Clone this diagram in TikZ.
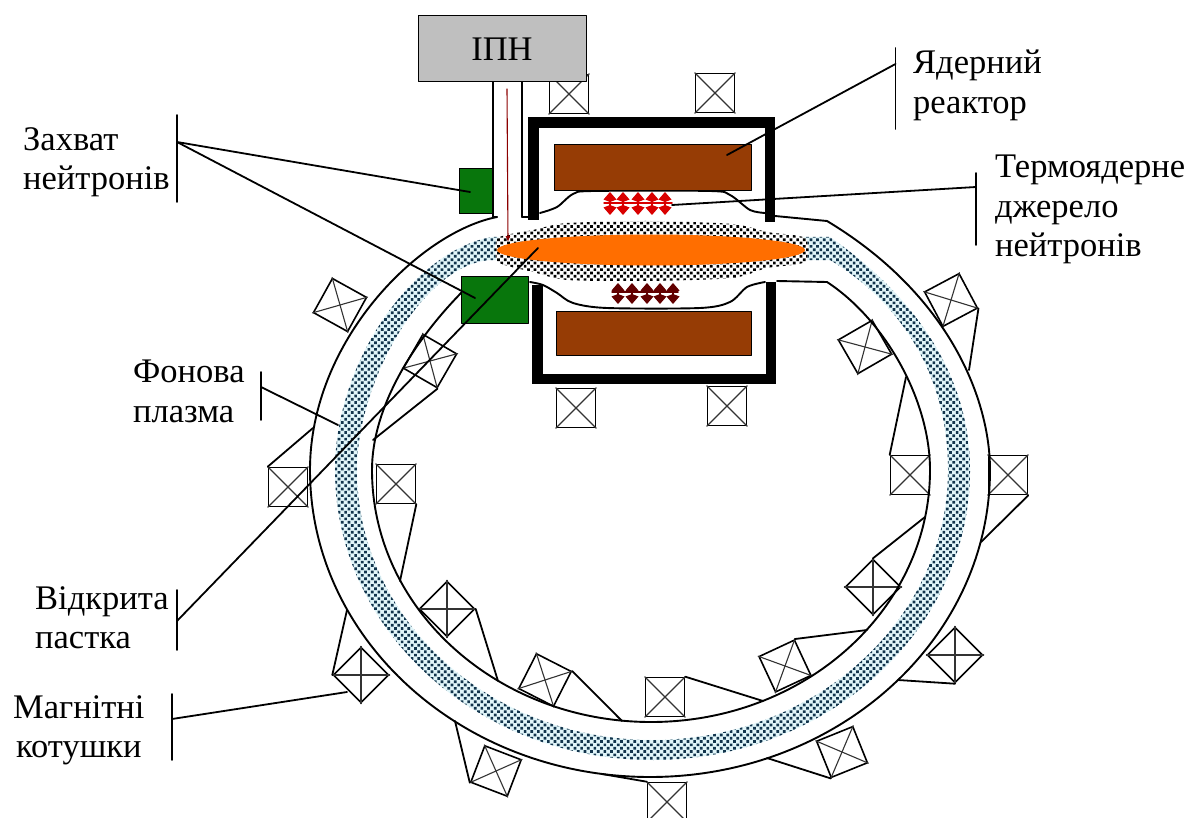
\documentclass[tikz,border=0pt]{standalone}
\usepackage{fontspec}
\setmainfont{Liberation Serif}
\usepackage{xcolor}
\usetikzlibrary{arrows.meta,patterns.meta,shapes.geometric}
\definecolor{reactorbrown}{RGB}{150,60,5}
\definecolor{trapgreen}{RGB}{8,118,12}
\definecolor{plasmaorange}{RGB}{255,110,0}
\definecolor{bandblue}{RGB}{18,52,76}
\definecolor{bandpale}{RGB}{226,246,250}

\begin{document}
\begin{tikzpicture}[
  x=1pt, y=-1pt, line cap=round, line join=round,
  font=\fontsize{34.5}{39.5}\selectfont,
  label/.style={inner sep=0pt, anchor=north west, align=left},
  coil/.style={draw, line width=1.6pt, fill=white, inner sep=0pt, minimum size=39pt,
    append after command={
      (\tikzlastnode.north west) edge[crossbar] (\tikzlastnode.south east)
      (\tikzlastnode.north east) edge[crossbar] (\tikzlastnode.south west)}},
  crossbar/.style={draw=black!80, line width=1.1pt},
  tie/.style={line width=1.8pt},
  tube/.style={line width=1.9pt},
  leader/.style={line width=1.8pt},
  frame/.style={line width=10.5pt, line cap=butt, line join=miter},
  block/.style={draw, line width=1pt, inner sep=0pt},
  fusion/.style={{Kite[length=10pt,width=13pt]}-{Kite[length=10pt,width=13pt]}, line width=1.5pt},
]
\useasboundingbox (0,0) rectangle (1198,818);
% coils with their ties
\foreach \name/\px/\py/\ang in {
    cA/569/94/0, cB/715/93/0, cC/576/408/0, cD/727/406/0,
    cE/340/305/-29, cF/430/361/-30, cG/288/487/0, cH/396/484/0,
    cI/447/609/45, cJ/361/675/45, cK/545/680/-27, cL/496/771/-21,
    cM/665/697/0, cN/667/802/0, cO/785/666/25, cP/842/752/22,
    cQ/873/587/45, cR/955/655/45, cS/910/475/0, cT/1008/475/0,
    cU/951/300/28, cV/865/347/30}
  \node[coil, rotate=\ang] (\name) at (\px,\py) {};
\foreach \name/\corner/\px/\py in {
    cG/north west/313/428, cF/south east/373/440, cH/south east/400/581,
    cI/south east/498/681, cJ/north west/347/610, cK/north east/622/721,
    cL/south west/455/721, cM/north east/763/701, cN/north west/602/774,
    cO/north east/867/630, cP/south west/767/758, cQ/north east/925/517,
    cR/south west/898/680, cS/north west/906/377, cT/south east/981/542,
    cU/south east/969/370}
{
  \coordinate (\name-tie) at (\px,\py);
  \draw[tie] (\name.\corner) -- (\name-tie);
}
% tube walls
\draw[tube] (497,217) .. controls (420,232) and (310,340) .. (310,470)
  arc[start angle=180, end angle=0, x radius=340, y radius=307]
  .. controls (990,400) and (950,295) .. (827,221) -- (775,216);
\draw[tube] (462,292) .. controls (410,345) and (372,410) .. (372,470)
  arc[start angle=180, end angle=0, x radius=279, y radius=252]
  .. controls (930,400) and (885,320) .. (827,282) -- (777,281);
\draw[tube] plot[smooth, tension=0.5] coordinates {(540,213) (557,207) (573,194) (593,191) (710,191) (730,195) (750,210) (765,213)};
\draw[tube] plot[smooth, tension=0.5] coordinates {(530,282) (543,285) (557,293) (573,303) (607,308) (700,308) (730,302) (747,287) (765,282)};
\draw[tube] (522,217) -- (528,217);
% background plasma
\path[fill=bandpale, postaction={pattern={Dots[distance=4.7pt, radius=1.9pt, angle=45]}, pattern color=bandblue}]
  (510,237) -- (492,237) .. controls (415,250) and (335,360) .. (335,470)
  arc[start angle=180, end angle=0, x radius=317.5, y radius=290]
  .. controls (970,380) and (920,300) .. (830,237) -- (795,237) -- (795,260) -- (830,260)
  .. controls (905,305) and (948,380) .. (948,470)
  arc[start angle=0, end angle=180, x radius=295.5, y radius=270]
  .. controls (357,380) and (425,262) .. (492,260) -- (510,260) -- cycle;
% open trap
\path[fill=white, postaction={pattern={Dots[distance=4.7pt, radius=1.9pt, angle=45]}, pattern color=black}]
  plot[smooth cycle, tension=0.4] coordinates {(498,238) (533,230) (567,223) (650,221) (733,224) (767,232) (805,238)
  (805,262) (767,268) (733,278) (650,281) (567,280) (533,272) (498,262)};
\node[ellipse, fill=plasmaorange, inner sep=0pt, minimum width=308pt, minimum height=31pt] (plasma) at (651,250) {};
% reactor
\draw[frame] (533.5,220) -- (533.5,122.5) -- (770,122.5) -- (770,222);
\draw[frame] (537.5,285) -- (537.5,379) -- (771,379) -- (771,282);
\node[block, fill=reactorbrown, minimum width=197pt, minimum height=46pt] (coreT) at (652.5,168) {};
\node[block, fill=reactorbrown, minimum width=195pt, minimum height=44pt] (coreB) at (653.5,333) {};
% neutron arrows
\foreach \px in {610,623,638,652,665}
  \draw[fusion, red!85!black] (\px,192) -- (\px,215);
\draw[red!85!black, line width=1.5pt] (604,203) -- (672,203);
\foreach \px in {618,632,647,660,673}
  \draw[fusion, black!30!red!55!black] (\px,283) -- (\px,304);
\draw[black!30!red!55!black, line width=1.5pt] (612,292) -- (678,292);
% injector and duct
\draw[tube] (493,82) -- (493,217) -- (497,217);
\draw[tube] (522,82) -- (522,217);
\draw[-{Latex[length=6pt,width=5pt]}, red!55!black, line width=1.1pt] (507,89) -- (508,242);
\node[block, fill=black!25, minimum width=168pt, minimum height=66pt] (ipn) at (502,49) {ІПН};
\node[block, fill=trapgreen, minimum width=33pt, minimum height=45pt] (trapS) at (475.5,191.5) {};
\node[block, fill=trapgreen, minimum width=67pt, minimum height=47pt] (trapB) at (494.5,299.5) {};
% labels
\node[label] (lcap) at (23,127) {Захват\\нейтронів};
\node[label] (lbg) at (133,360) {Фонова\\плазма};
\node[label] (ltrap) at (35,586) {Відкрита\\пастка};
\node[label, align=center] (lmag) at (13,695) {Магнітні\\котушки};
\node[label] (lreac) at (913,50) {Ядерний\\реактор};
\node[label] (lfus) at (995,155) {Термоядерне\\джерело\\нейтронів};
% leaders
\coordinate (jcap) at (177,142);
\coordinate (jbg) at (261,387);
\coordinate (jtrap) at (177,621);
\coordinate (jmag) at (172,719);
\coordinate (jreac) at (895.5,64);
\coordinate (jfus) at (976,187);
\coordinate (trapB-in) at (475,298);
\coordinate (trapS-in) at (470,192);
\coordinate (plasma-in) at (538,248);
\coordinate (band-in) at (338,425);
\coordinate (coreT-in) at (727,155);
\coordinate (fus-in) at (672,205);
\coordinate (coil-in) at (347,692);
\draw[leader] (177,115) -- (177,202);
\draw[leader] (261,372) -- (261,420);
\draw[leader] (177,590) -- (177,650);
\draw[leader] (172,694) -- (172,760);
\draw[leader] (895.5,48) -- (895.5,129);
\draw[leader] (976,173) -- (976,245);
\draw[leader] (jcap) -- (trapS-in);
\draw[leader] (jcap) -- (trapB-in);
\draw[leader] (jbg) -- (band-in);
\draw[leader] (jtrap) -- (plasma-in);
\draw[leader] (jmag) -- (coil-in);
\draw[leader] (jreac) -- (coreT-in);
\draw[leader] (jfus) -- (fus-in);
\end{tikzpicture}
\end{document}
